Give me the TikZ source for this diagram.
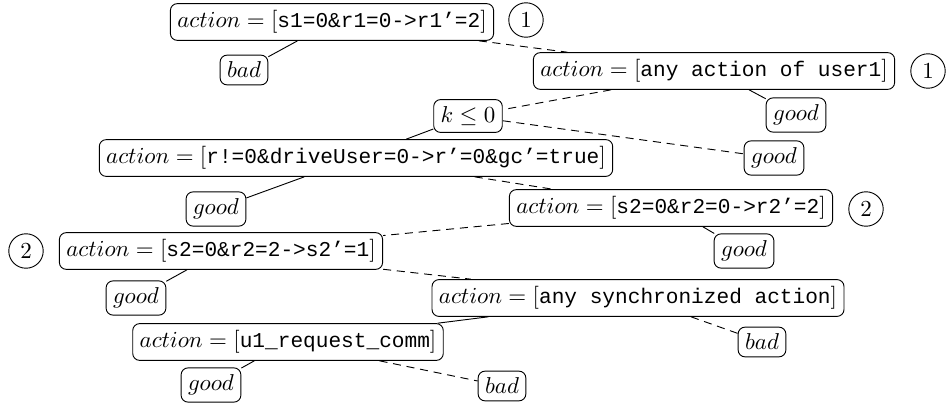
\documentclass[tikz,border=0pt]{standalone}
\usepackage{fontspec}
\setmonofont[Scale=0.92]{Liberation Mono}
\usepackage{tikz}

\tikzset{
  test/.style={draw, rounded corners=3pt, inner sep=3pt},
  leaf/.style={draw, rounded corners=3pt, inner sep=3pt},
  tag/.style={draw, circle, minimum size=15pt, inner sep=0pt},
  neg/.style={dash pattern=on 3.5pt off 2.5pt}
}

\begin{document}
\begin{tikzpicture}[x=0.0153cm, y=-0.0153cm]
            \useasboundingbox (0,0) rectangle (946,405);

            % tests and leaves
            \node[test] (A1) at (332,22) {$action = [$\texttt{s1=0\&r1=0->r1’=2}$]$};
            \node[tag] (c1) at (526,20) {$1$};
            \node[leaf] (bad1) at (244,70) {$bad$};
            \node[test] (A2) at (714,71) {$action = [$\texttt{any action of user1}$]$};
            \node[tag] (c2) at (928,71) {$1$};
            \node[leaf] (good1) at (796,115) {$good$};
            \node[test] (K) at (468,116) {$k \leq 0$};
            \node[leaf] (good2) at (774,158) {$good$};
            \node[test] (A3) at (356,158) {$action = [$\texttt{r!=0\&driveUser=0->r’=0\&gc’=true}$]$};
            \node[leaf] (good3) at (216,209) {$good$};
            \node[test] (A4) at (671,208) {$action = [$\texttt{s2=0\&r2=0->r2’=2}$]$};
            \node[tag] (c3) at (866,209) {$2$};
            \node[leaf] (good4) at (744,251) {$good$};
            \node[test] (A5) at (221,251) {$action = [$\texttt{s2=0\&r2=2->s2’=1}$]$};
            \node[tag] (c4) at (26,251) {$2$};
            \node[leaf] (good5) at (136,298) {$good$};
            \node[test] (A6) at (638,298) {$action = [$\texttt{any synchronized action}$]$};
            \node[leaf] (bad2) at (762,342) {$bad$};
            \node[test] (A7) at (288,342) {$action = [$\texttt{u1\_request\_comm}$]$};
            \node[leaf] (good6) at (211,385) {$good$};
            \node[leaf] (bad3) at (502,386) {$bad$};

            % branches
            \draw (A1) -- (bad1);
            \draw[neg] (A1) -- (A2);
            \draw (A2) -- (good1);
            \draw[neg] (A2) -- (K);
            \draw (K) -- (A3);
            \draw[neg] (K) -- (good2);
            \draw (A3) -- (good3);
            \draw[neg] (A3) -- (A4);
            \draw (A4) -- (good4);
            \draw[neg] (A4) -- (A5);
            \draw (A5) -- (good5);
            \draw[neg] (A5) -- (A6);
            \draw (A6) -- (A7);
            \draw[neg] (A6) -- (bad2);
            \draw (A7) -- (good6);
            \draw[neg] (A7) -- (bad3);
\end{tikzpicture}
\end{document}
